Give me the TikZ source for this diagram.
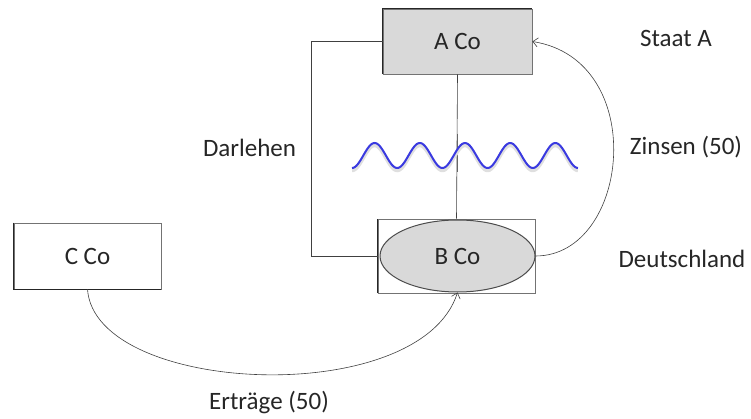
\documentclass[tikz,border=0pt]{standalone}
\usepackage{fontspec}
\setmainfont{Carlito}
\usetikzlibrary{shapes.geometric,arrows.meta}
\definecolor{boxfill}{HTML}{D9D9D9}
\definecolor{wave}{HTML}{3A3AE0}
\definecolor{ink}{HTML}{262626}
\tikzset{
  every node/.style={font=\fontsize{25}{30}\selectfont, text=ink},
  cobox/.style={draw=black!55, line width=0.7pt, inner sep=0pt},
  conn/.style={draw=black!75, line width=0.6pt},
  arr/.style={conn, -{Straight Barb[length=5pt,width=9pt]}},
  lab/.style={anchor=base, inner sep=0pt}
}
\begin{document}
\begin{tikzpicture}[x=1pt,y=-1pt]
\useasboundingbox (0,0) rectangle (751,419);
% nodes
\node[cobox, fill=boxfill, minimum width=149pt, minimum height=65pt] (A) at (457.5,41.5) {A Co};
\node[cobox, fill=white, minimum width=157pt, minimum height=74pt] (Bbox) at (456.5,256) {};
\node[cobox, ellipse, fill=boxfill, draw=black!70, line width=1pt, minimum width=155pt, minimum height=72pt] (B) at (457.5,256) {B Co};
\node[cobox, fill=white, minimum width=147pt, minimum height=66pt] (C) at (87.5,256) {C Co};
% darker left/top edges
\draw[black!85, line width=1pt] (A.south west) -- (A.north west) -- (A.north east);
\draw[black!85, line width=1pt] (Bbox.south west) -- (Bbox.north west);
\draw[black!85, line width=1pt] (C.north west) -- (C.south west) -- (C.south east);
% labels
\node[lab] (staat) at (676,47) {Staat A};
\node[lab] (dl) at (249.5,157) {Darlehen};
\node[lab] (zins) at (686,155) {Zinsen (50)};
\node[lab] (de) at (682,267) {Deutschland};
\node[lab] (ertr) at (269,409) {Erträge (50)};
% connectors
\coordinate (dk) at (311,41.5);
\draw[conn] (A.west) -- (dk) |- (Bbox.west);
\draw[conn] (A.south) -- (Bbox.north);
\draw[black!60, line width=1.4pt] (457.5,134) -- (457.5,172);
% wave
\draw[gray!25, line width=3.5pt, domain=0:5, samples=200] plot ({352+45.2*\x}, {158 + 12.5*cos(360*\x)});
\draw[wave, line width=2pt, domain=0:5, samples=200] plot ({352+45.2*\x}, {155.5 + 12.5*cos(360*\x)});
% arrows
\draw[arr] (B.east) .. controls (630,256) and (650,60) .. (A.east);
\draw[arr] (C.south) .. controls (95,395) and (420,410) .. (B.south);
\end{tikzpicture}
\end{document}
